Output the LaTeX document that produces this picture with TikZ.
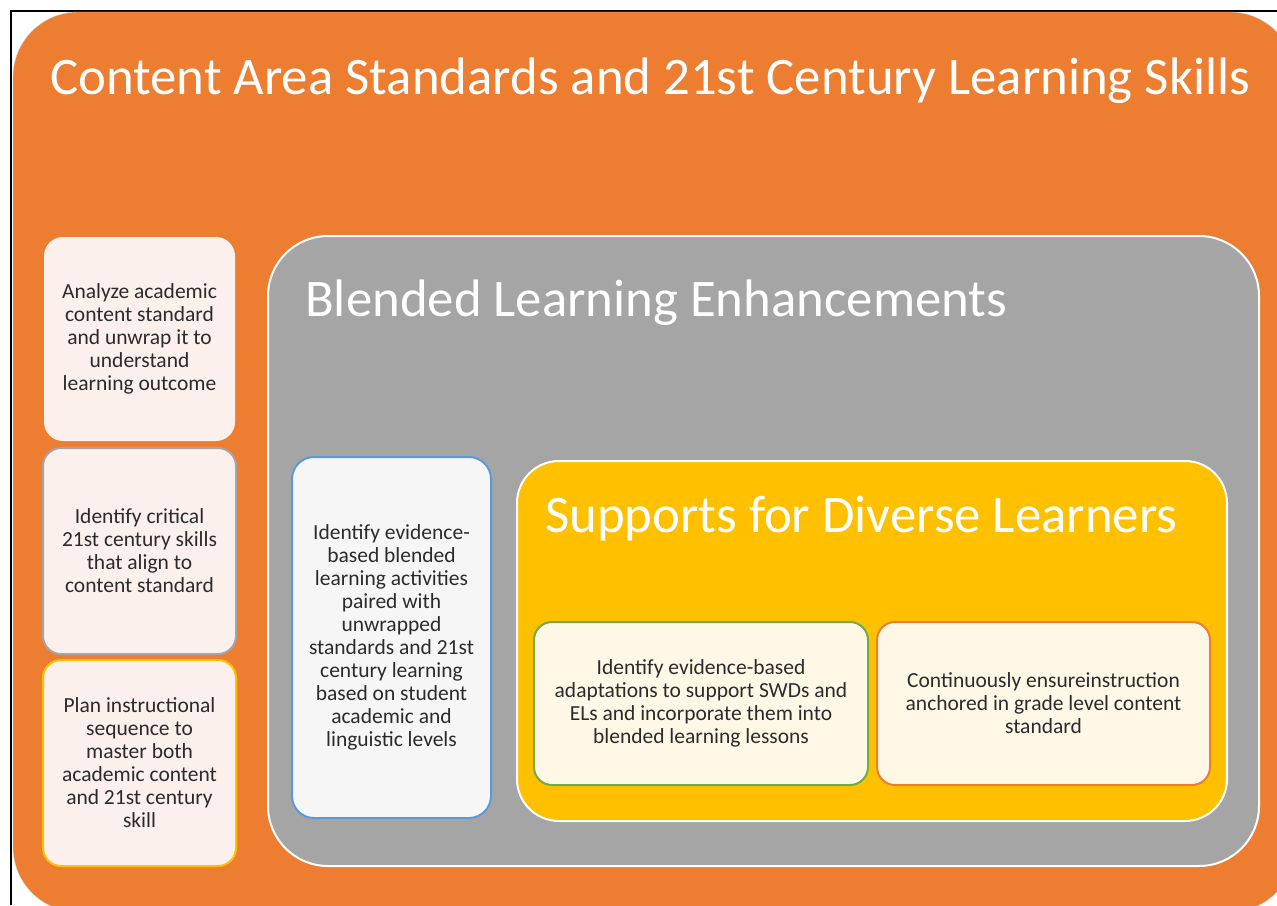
\documentclass[tikz,border=0pt]{standalone}
\usepackage{fontspec}
\setmainfont{Carlito}
\usepackage{xcolor}
\usepackage{tikz}
\definecolor{officeOrange}{HTML}{ED7D31}
\definecolor{officeGray}{HTML}{A5A5A5}
\definecolor{officeGold}{HTML}{FFC000}
\definecolor{officeBlue}{HTML}{5B9BD5}
\definecolor{officeGreen}{HTML}{70AD47}
\definecolor{officeInk}{HTML}{2B2B2B}
\definecolor{tintOrange}{HTML}{FBF0EB}
\definecolor{tintGray}{HTML}{F6F6F6}
\definecolor{tintGold}{HTML}{FFF8E6}
\tikzset{
  panel/.style={line width=2pt, draw=white},
  ttl/.style={anchor=base west, text=white, inner sep=0pt, font=\fontsize{52.8}{62}\selectfont},
  card/.style={rounded corners=18pt, line width=2pt, align=center, text=officeInk,
    inner sep=0pt, font=\fontsize{21.5}{23}\selectfont},
}

\begin{document}
\begin{tikzpicture}[x=1pt, y=-1pt]
  \useasboundingbox (0,0) rectangle (1277,905);
  \clip (0,0) rectangle (1277,905);
  \fill[white] (0,0) rectangle (1277,905);
  % outer frame: content standards
  \draw[line width=2pt] (11,905) -- (11,11) -- (1277,11);
  \fill[officeOrange, draw=black!15, rounded corners=65pt] (13,12) rectangle (1295,912);
  \node[ttl] (content) at (50,94) {Content Area Standards and 21st Century Learning Skills};
  % left column
  \node[card, fill=tintOrange, draw=tintOrange, minimum width=189pt, minimum height=202pt]
    (analyze) at (139.5,339) {Analyze academic\\content standard\\and unwrap it to\\understand\\learning outcome};
  \node[card, fill=tintOrange, draw=officeGray, minimum width=193pt, minimum height=206pt]
    (identify) at (139.5,551) {Identify critical\\21st century skills\\that align to\\content standard};
  \node[card, fill=tintOrange, draw=officeGold, minimum width=193pt, minimum height=206pt]
    (plan) at (139.5,763) {Plan instructional\\sequence to\\master both\\academic content\\and 21st century\\skill};
  % blended learning panel
  \draw[panel, fill=officeGray, rounded corners=60pt] (268,236) rectangle (1259,866);
  \node[ttl] (blended) at (305,316) {Blended Learning Enhancements};
  \node[card, fill=tintGray, draw=officeBlue, rounded corners=22pt, minimum width=199pt, minimum height=361pt]
    (activities) at (391.5,637.5) {Identify evidence-\\based blended\\learning activities\\paired with\\unwrapped\\standards and 21st\\century learning\\based on student\\academic and\\linguistic levels};
  % diverse learners panel
  \draw[panel, fill=officeGold, rounded corners=42pt] (517,461) rectangle (1227,821);
  \node[ttl] (supports) at (545,532) {Supports for Diverse Learners};
  \node[card, fill=tintGold, draw=officeGreen, minimum width=334pt, minimum height=163pt]
    (adapt) at (701,703.5) {Identify evidence-based\\adaptations to support SWDs and\\ELs and incorporate them into\\blended learning lessons};
  \node[card, fill=tintGold, draw=officeOrange, minimum width=333pt, minimum height=163pt]
    (anchor) at (1043.5,703.5) {Continuously ensureinstruction\\anchored in grade level content\\standard};
\end{tikzpicture}
\end{document}
